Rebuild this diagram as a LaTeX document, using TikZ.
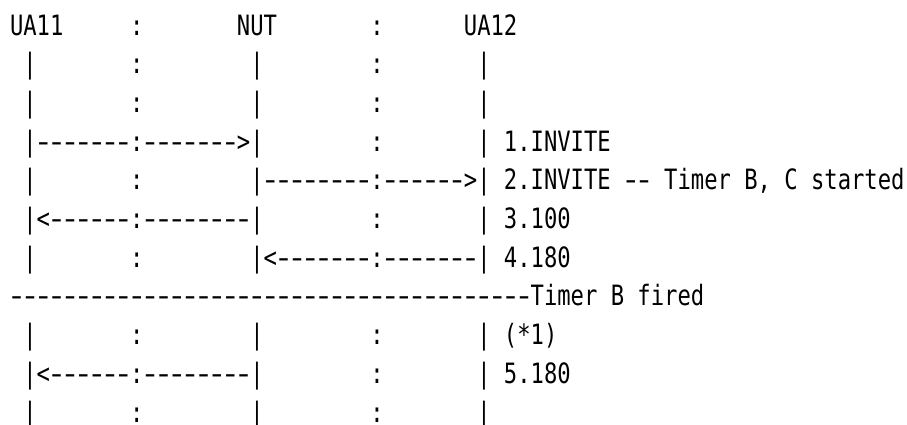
\documentclass[tikz,border=0pt]{standalone}
\usepackage{fontspec}
\usepackage{graphicx}
\newfontfamily\monoface{DejaVu Sans Mono}[FakeStretch=0.792]
\newlength\cw
\newcount\dcnt
\newcommand\rowfont{\monoface\fontsize{28pt}{30pt}\selectfont}
% n blank character cells
\newcommand\Sp[1]{\settowidth\cw{0}\hspace*{#1\cw}}
% n hyphen cells, drawn as long dashes
\newcommand\Dh[1]{\settowidth\cw{0}\dcnt=#1\relax
  \loop\ifnum\dcnt>0 \makebox[\cw][c]{\scalebox{1.5}[1]{-}}\advance\dcnt by -1 \repeat}
\begin{document}
\begin{tikzpicture}[x=1pt,y=1pt,
  row/.style={font=\rowfont, anchor=base west, inner sep=0pt, outer sep=0pt, text=black}]
\useasboundingbox (0,0) rectangle (907,-424);
\fill[white] (0,0) rectangle (907,-424);
\node[row] (r0)  at (10,-35.0)  {UA11\Sp{5}:\Sp{7}NUT\Sp{7}:\Sp{6}UA12};
\node[row] (r1)  at (10,-73.7)  {\Sp{1}|\Sp{7}:\Sp{8}|\Sp{8}:\Sp{7}|};
\node[row] (r2)  at (10,-112.4) {\Sp{1}|\Sp{7}:\Sp{8}|\Sp{8}:\Sp{7}|};
\node[row] (r3)  at (10,-151.1) {\Sp{1}|\Dh{7}:\Dh{7}>|\Sp{8}:\Sp{7}|\Sp{1}1.INVITE};
\node[row] (r4)  at (10,-189.8) {\Sp{1}|\Sp{7}:\Sp{8}|\Dh{8}:\Dh{6}>|\Sp{1}2.INVITE\Sp{1}\Dh{2}\Sp{1}Timer\Sp{1}B,\Sp{1}C\Sp{1}started};
\node[row] (r5)  at (10,-228.5) {\Sp{1}|<\Dh{6}:\Dh{8}|\Sp{8}:\Sp{7}|\Sp{1}3.100};
\node[row] (r6)  at (10,-267.2) {\Sp{1}|\Sp{7}:\Sp{8}|<\Dh{7}:\Dh{7}|\Sp{1}4.180};
\node[row] (r7)  at (10,-305.9) {\Dh{39}Timer\Sp{1}B\Sp{1}fired};
\node[row] (r8)  at (10,-344.6) {\Sp{1}|\Sp{7}:\Sp{8}|\Sp{8}:\Sp{7}|\Sp{1}(*1)};
\node[row] (r9)  at (10,-383.3) {\Sp{1}|<\Dh{6}:\Dh{8}|\Sp{8}:\Sp{7}|\Sp{1}5.180};
\node[row] (r10) at (10,-422.0) {\Sp{1}|\Sp{7}:\Sp{8}|\Sp{8}:\Sp{7}|};
\end{tikzpicture}
\end{document}
